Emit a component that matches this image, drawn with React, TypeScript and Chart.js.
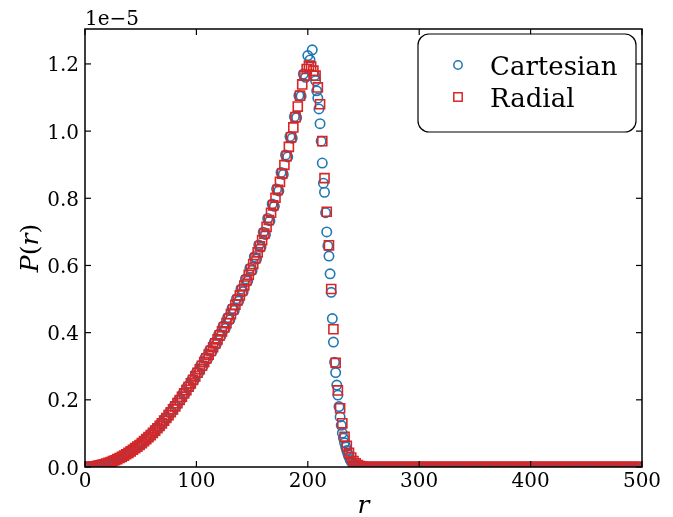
import React, { useEffect, useRef } from "react";
import { Chart, registerables } from "chart.js";

Chart.register(...registerables);

// ---------- data (P values in units of 1e-5) ----------
const X_TICKS = [0, 100, 200, 300, 400, 500];
const Y_TICKS = [0, 0.2, 0.4, 0.6, 0.8, 1.0, 1.2];
const X_RANGE = [0, 500];
const Y_RANGE = [0, 1.304];
const SERIES_LABELS = ["Cartesian", "Radial"];
const Y_OFFSET_TEXT = "1e\u22125";

function seq(a: number, b: number, step: number): number[] {
  const out: number[] = [];
  for (let v = a; v <= b + 1e-9; v += step) out.push(v);
  return out;
}

// sample radii
const CART_R = [...seq(0, 206, 2), ...seq(207, 250, 1), ...seq(252, 498, 2)];
const RAD_R = seq(1, 499, 2);

const CART_RISE = [
  0.000, 0.000, 0.001, 0.001, 0.002, 0.003, 0.005, 0.005, 0.008, 0.009,
  0.012, 0.013, 0.017, 0.018, 0.023, 0.024, 0.030, 0.031, 0.038, 0.039,
  0.046, 0.048, 0.056, 0.057, 0.066, 0.067, 0.076, 0.078, 0.089, 0.090,
  0.101, 0.103, 0.116, 0.117, 0.130, 0.131, 0.146, 0.147, 0.163, 0.164,
  0.181, 0.182, 0.199, 0.200, 0.219, 0.220, 0.240, 0.239, 0.260, 0.259,
  0.282, 0.280, 0.303, 0.300, 0.326, 0.322, 0.348, 0.344, 0.371, 0.366,
  0.395, 0.390, 0.420, 0.413, 0.445, 0.438, 0.472, 0.466, 0.501, 0.494,
  0.530, 0.522, 0.560, 0.553, 0.592, 0.585, 0.626, 0.619, 0.661, 0.654,
  0.699, 0.692, 0.740, 0.733, 0.783, 0.776, 0.828, 0.822, 0.877, 0.871,
  0.929, 0.923, 0.984, 0.979, 1.043, 1.040, 1.106, 1.104, 1.170, 1.160,
  1.225, 1.212, 1.242, 1.165,
];
const CART_FALL = [
  1.150, 1.120, 1.098, 1.066, 1.022, 0.970, 0.905, 0.845, 0.818, 0.757,
  0.700, 0.658, 0.628, 0.575, 0.520, 0.442, 0.372, 0.312, 0.281, 0.244,
  0.214, 0.180, 0.149, 0.124, 0.101, 0.086, 0.072, 0.060, 0.049, 0.039,
  0.030, 0.022, 0.016, 0.012, 0.008, 0.006, 0.004, 0.003, 0.002, 0.0015,
  0.001, 0.0006, 0.0004, 0.0002,
];
const CART_TAIL = [
  0, 0, 0, 0, 0, 0, 0, 0, 0, 0, 0, 0, 0, 0, 0, 0, 0, 0, 0, 0,
  0, 0, 0, 0, 0, 0, 0, 0, 0, 0, 0, 0, 0, 0, 0, 0, 0, 0, 0, 0,
  0, 0, 0, 0, 0, 0, 0, 0, 0, 0, 0, 0, 0, 0, 0, 0, 0, 0, 0, 0,
  0, 0, 0, 0, 0, 0, 0, 0, 0, 0, 0, 0, 0, 0, 0, 0, 0, 0, 0, 0,
  0, 0, 0, 0, 0, 0, 0, 0, 0, 0, 0, 0, 0, 0, 0, 0, 0, 0, 0, 0,
  0, 0, 0, 0, 0, 0, 0, 0, 0, 0, 0, 0, 0, 0, 0, 0, 0, 0, 0, 0,
  0, 0, 0, 0,
];
const CART_P = [...CART_RISE, ...CART_FALL, ...CART_TAIL];

const RAD_P = [
  0.000, 0.0002, 0.0007, 0.0014, 0.0023, 0.0034, 0.0047, 0.0062, 0.0080, 0.0100,
  0.0122, 0.0147, 0.0173, 0.0202, 0.0233, 0.0267, 0.0302, 0.0340, 0.0380, 0.0420,
  0.0465, 0.0515, 0.0560, 0.0605, 0.0655, 0.0710, 0.0770, 0.0830, 0.0890, 0.0950,
  0.1015, 0.1085, 0.1155, 0.1225, 0.1300, 0.1380, 0.1460, 0.1545, 0.1630, 0.1715,
  0.1805, 0.1900, 0.1995, 0.2090, 0.2190, 0.2290, 0.2390, 0.2490, 0.2595, 0.2700,
  0.2805, 0.2910, 0.3015, 0.3125, 0.3235, 0.3345, 0.3455, 0.3565, 0.3680, 0.3800,
  0.3920, 0.4040, 0.4160, 0.4285, 0.4415, 0.4550, 0.4690, 0.4830, 0.4970, 0.5110,
  0.5255, 0.5405, 0.5560, 0.5720, 0.5880, 0.6045, 0.6215, 0.6390, 0.6570, 0.6755,
  0.6950, 0.7150, 0.7355, 0.7570, 0.7790, 0.8015, 0.8250, 0.8490, 0.8735, 0.8990,
  0.9255, 0.9530, 0.9815, 1.0110, 1.0415, 1.0730, 1.1055, 1.1390, 1.1650, 1.1850,
  1.1950, 1.1920, 1.1800, 1.1650,
  1.130, 1.080, 0.970, 0.860, 0.760, 0.660, 0.530, 0.410, 0.310, 0.228,
  0.175, 0.130, 0.090, 0.063, 0.042, 0.028, 0.018, 0.011, 0.006, 0.003, 0.001,
  0, 0, 0, 0, 0, 0, 0, 0, 0, 0, 0, 0, 0, 0, 0, 0, 0, 0, 0, 0,
  0, 0, 0, 0, 0, 0, 0, 0, 0, 0, 0, 0, 0, 0, 0, 0, 0, 0, 0, 0,
  0, 0, 0, 0, 0, 0, 0, 0, 0, 0, 0, 0, 0, 0, 0, 0, 0, 0, 0, 0,
  0, 0, 0, 0, 0, 0, 0, 0, 0, 0, 0, 0, 0, 0, 0, 0, 0, 0, 0, 0,
  0, 0, 0, 0, 0, 0, 0, 0, 0, 0, 0, 0, 0, 0, 0, 0, 0, 0, 0, 0,
  0, 0, 0, 0, 0, 0, 0, 0, 0, 0, 0, 0, 0, 0, 0, 0, 0, 0, 0, 0,
  0, 0, 0, 0, 0,
];

// ---------- styling ----------
const BLUE = "#1f77b4";
const RED = "#d62728";
const SERIF = "'DejaVu Serif', serif";

const decorPlugin = {
  id: "decor",
  afterDraw(chart: any) {
    const { ctx, chartArea: a, scales } = chart;
    const xs = scales.x;
    const ys = scales.y;
    ctx.save();
    ctx.strokeStyle = "#000";
    ctx.fillStyle = "#000";

    // inward ticks on all four sides
    ctx.lineWidth = 1.2;
    const tl = 6;
    const line = (x1: number, y1: number, x2: number, y2: number) => {
      ctx.beginPath();
      ctx.moveTo(x1, y1);
      ctx.lineTo(x2, y2);
      ctx.stroke();
    };
    for (const v of X_TICKS) {
      const x = xs.getPixelForValue(v);
      line(x, a.bottom, x, a.bottom - tl);
      line(x, a.top, x, a.top + tl);
    }
    for (const v of Y_TICKS) {
      const y = ys.getPixelForValue(v);
      line(a.left, y, a.left + tl, y);
      line(a.right, y, a.right - tl, y);
    }

    // frame
    ctx.lineWidth = 1.5;
    ctx.strokeRect(a.left, a.top, a.right - a.left, a.bottom - a.top);

    // tick labels
    ctx.font = `20px ${SERIF}`;
    ctx.textBaseline = "alphabetic";
    ctx.textAlign = "center";
    for (const v of X_TICKS) {
      ctx.fillText(String(v), xs.getPixelForValue(v), a.bottom + 20);
    }
    ctx.textAlign = "right";
    for (const v of Y_TICKS) {
      ctx.fillText(v.toFixed(1), a.left - 6, ys.getPixelForValue(v) + 7.5);
    }

    // offset text
    ctx.textAlign = "left";
    ctx.fillText(Y_OFFSET_TEXT, a.left, a.top - 4);

    // axis labels (math italic)
    ctx.font = `italic 25px ${SERIF}`;
    ctx.textAlign = "center";
    ctx.fillText("r", (a.left + a.right) / 2, a.bottom + 46);

    ctx.save();
    ctx.translate(38, (a.top + a.bottom) / 2);
    ctx.rotate(-Math.PI / 2);
    const parts: [string, boolean][] = [["P", true], ["(", false], ["r", true], [")", false]];
    let total = 0;
    const widths = parts.map(([t, it]) => {
      ctx.font = `${it ? "italic " : ""}25px ${SERIF}`;
      const w = ctx.measureText(t).width;
      total += w;
      return w;
    });
    let cx = -total / 2;
    ctx.textAlign = "left";
    parts.forEach(([t, it], i) => {
      ctx.font = `${it ? "italic " : ""}25px ${SERIF}`;
      ctx.fillText(t, cx, 0);
      cx += widths[i];
    });
    ctx.restore();

    // legend
    const lx = a.right - 224;
    const ly = a.top + 5;
    const lw = 218;
    const lh = 98;
    ctx.beginPath();
    ctx.roundRect(lx, ly, lw, lh, 11);
    ctx.fillStyle = "rgba(255,255,255,0.8)";
    ctx.fill();
    ctx.lineWidth = 1.2;
    ctx.strokeStyle = "#000";
    ctx.stroke();

    const mx = lx + 40;
    ctx.lineWidth = 1.5;
    ctx.strokeStyle = BLUE;
    ctx.beginPath();
    ctx.arc(mx, ly + 31, 4.2, 0, Math.PI * 2);
    ctx.stroke();
    ctx.strokeStyle = RED;
    ctx.strokeRect(mx - 4.2, ly + 63 - 4.2, 8.4, 8.4);

    ctx.fillStyle = "#000";
    ctx.font = `26px ${SERIF}`;
    ctx.textAlign = "left";
    ctx.fillText(SERIES_LABELS[0], lx + 72, ly + 41);
    ctx.fillText(SERIES_LABELS[1], lx + 72, ly + 73);

    ctx.restore();
  },
};

export default function App() {
  const ref = useRef<HTMLCanvasElement>(null);

  useEffect(() => {
    document.body.style.margin = "0";
    const canvas = ref.current;
    if (!canvas) return;
    const chart = new Chart(canvas, {
      type: "scatter",
      data: {
        datasets: [
          {
            label: SERIES_LABELS[0],
            data: CART_R.map((r, i) => ({ x: r, y: CART_P[i] })),
            pointStyle: "circle",
            pointRadius: 4.7,
            pointBorderWidth: 1.6,
            borderColor: BLUE,
            pointBorderColor: BLUE,
            pointBackgroundColor: "rgba(0,0,0,0)",
            backgroundColor: "rgba(0,0,0,0)",
            clip: 0,
            order: 2,
          },
          {
            label: SERIES_LABELS[1],
            data: RAD_R.map((r, i) => ({ x: r, y: RAD_P[i] })),
            pointStyle: "rect",
            pointRadius: 6.4,
            pointBorderWidth: 1.6,
            borderColor: RED,
            pointBorderColor: RED,
            pointBackgroundColor: "rgba(0,0,0,0)",
            backgroundColor: "rgba(0,0,0,0)",
            clip: 0,
            order: 1,
          },
        ],
      },
      options: {
        animation: false,
        responsive: false,
        events: [],
        layout: { padding: { left: 0, top: 29, right: 31, bottom: 0 } },
        plugins: {
          legend: { display: false },
          tooltip: { enabled: false },
        },
        scales: {
          x: {
            type: "linear",
            min: X_RANGE[0],
            max: X_RANGE[1],
            grid: { display: false, drawTicks: false },
            border: { display: false },
            ticks: { display: false },
            afterFit: (s: any) => {
              s.height = 50;
            },
          },
          y: {
            type: "linear",
            min: Y_RANGE[0],
            max: Y_RANGE[1],
            grid: { display: false, drawTicks: false },
            border: { display: false },
            ticks: { display: false },
            afterFit: (s: any) => {
              s.width = 85;
            },
          },
        },
      },
      plugins: [decorPlugin],
    });
    return () => chart.destroy();
  }, []);

  return (
    <div style={{ width: 673, height: 517, background: "#fff" }}>
      <canvas ref={ref} width={673} height={517} style={{ display: "block" }} />
    </div>
  );
}
